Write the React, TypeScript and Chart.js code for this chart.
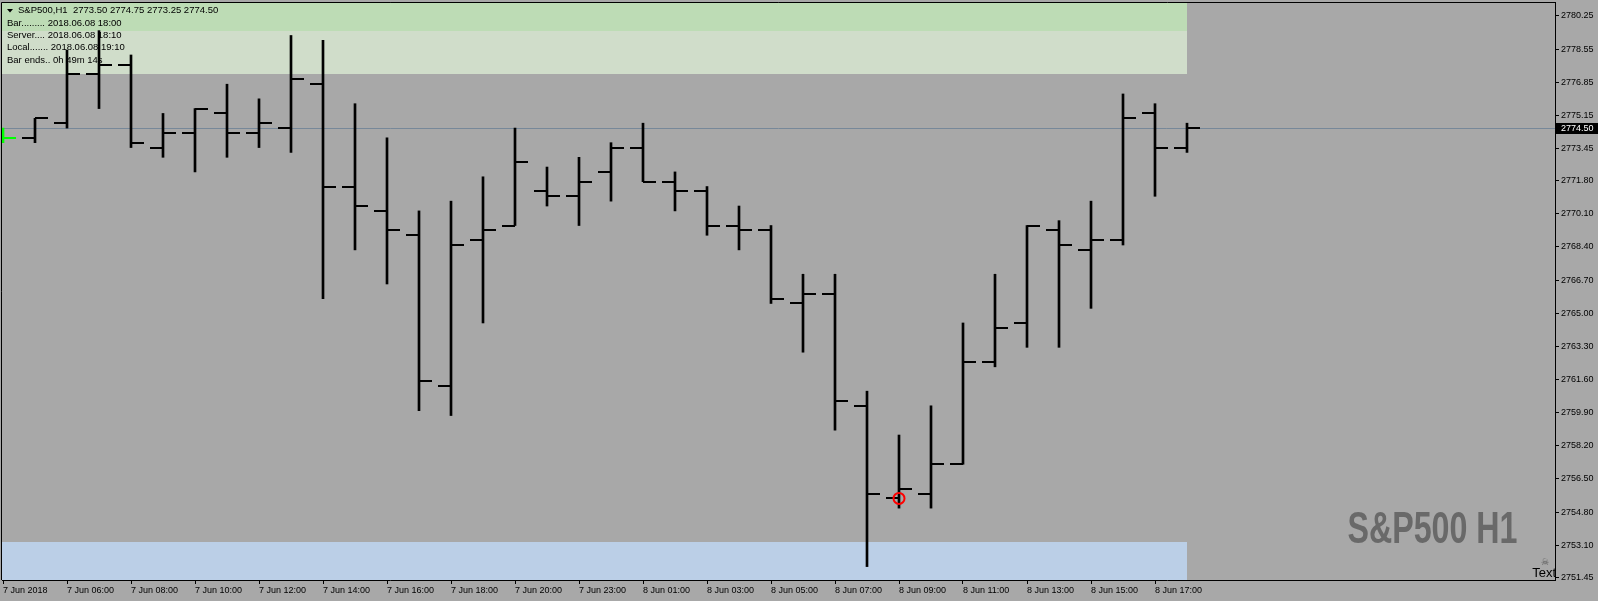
import React, { useEffect, useRef } from "react";
import { Chart, registerables } from "chart.js";

Chart.register(...registerables);

// ---- data (H1 bars, S&P500) ----
const opens = [2774.25, 2774.0, 2774.75, 2777.25, 2777.75, 2773.5, 2774.25, 2775.25, 2774.25, 2774.5, 2776.75, 2771.5, 2770.25, 2769.0, 2761.25, 2768.75, 2769.5, 2771.25, 2771.0, 2772.25, 2773.5, 2771.75, 2771.25, 2769.5, 2769.25, 2765.5, 2766.0, 2760.25, 2755.5, 2755.75, 2757.25, 2762.5, 2764.5, 2769.25, 2768.25, 2768.75, 2775.25, 2773.5];
const highs = [2774.5, 2775.0, 2778.5, 2779.5, 2778.25, 2775.25, 2775.5, 2776.75, 2776.0, 2779.25, 2779.0, 2775.75, 2774.0, 2770.25, 2770.75, 2772.0, 2774.5, 2772.5, 2773.0, 2773.75, 2774.75, 2772.25, 2771.5, 2770.5, 2769.5, 2767.0, 2767.0, 2761.0, 2758.75, 2760.25, 2764.5, 2767.0, 2769.5, 2769.75, 2770.75, 2776.25, 2775.75, 2774.75];
const lows = [2773.75, 2773.75, 2774.5, 2775.5, 2773.5, 2773.0, 2772.25, 2773.0, 2773.5, 2773.25, 2765.75, 2768.25, 2766.5, 2760.0, 2759.75, 2764.5, 2769.5, 2770.5, 2769.5, 2770.75, 2771.75, 2770.25, 2769.0, 2768.25, 2765.5, 2763.0, 2759.0, 2752.0, 2755.0, 2755.0, 2757.25, 2762.25, 2763.25, 2763.25, 2765.25, 2768.5, 2771.0, 2773.25];
const closes = [2774.0, 2775.0, 2777.25, 2777.75, 2773.75, 2774.25, 2775.5, 2774.25, 2774.75, 2777.0, 2771.5, 2770.5, 2769.25, 2761.5, 2768.5, 2769.25, 2772.75, 2771.0, 2771.75, 2773.5, 2771.75, 2771.25, 2769.5, 2769.25, 2765.75, 2766.0, 2760.5, 2755.75, 2756.0, 2757.25, 2762.5, 2764.25, 2769.5, 2768.5, 2768.75, 2775.0, 2773.5, 2774.5];
const barSlots = opens.map((_, i) => i - 1);

const axisLabels = ["7 Jun 2018", "7 Jun 06:00", "7 Jun 08:00", "7 Jun 10:00", "7 Jun 12:00", "7 Jun 14:00", "7 Jun 16:00", "7 Jun 18:00", "7 Jun 20:00", "7 Jun 23:00", "8 Jun 01:00", "8 Jun 03:00", "8 Jun 05:00", "8 Jun 07:00", "8 Jun 09:00", "8 Jun 11:00", "8 Jun 13:00", "8 Jun 15:00", "8 Jun 17:00"];
const axisLabelSlots = [-1, 1, 3, 5, 7, 9, 11, 13, 15, 17, 19, 21, 23, 25, 27, 29, 31, 33, 35];

const priceTicks = [2780.25, 2778.55, 2776.85, 2775.15, 2773.45, 2771.8, 2770.1, 2768.4, 2766.7, 2765.0, 2763.3, 2761.6, 2759.9, 2758.2, 2756.5, 2754.8, 2753.1, 2751.45];
const currentPrice = 2774.5;

const upperZoneOuter = [2779.5, 2790];
const upperZoneInner = [2777.25, 2779.5];
const lowerZone = [2740, 2753.25];

const markerSlot = [27];
const markerPrice = [2755.5];

const headerText = "S&P500,H1  2773.50 2774.75 2773.25 2774.50";
const infoLines = ["Bar......... 2018.06.08 18:00", "Server.... 2018.06.08 18:10", "Local....... 2018.06.08 19:10", "Bar ends.. 0h 49m 14s"];
const watermark = "S&P500 H1";
const cornerLabel = "Text";

// ---- style ----
const W = 1598;
const H = 601;
const BG = "#A8A8A8";
const FONT = "'Liberation Sans', Arial, sans-serif";
const TICK = 13;
const X_MIN = -1.03125;
const X_MAX = 47.5;
const Y_MAX = 2780.917;
const Y_MIN = 2751.312;

function tickImage(color: string, left: boolean) {
  const c = document.createElement("canvas");
  c.width = TICK * 2;
  c.height = 2;
  const g = c.getContext("2d")!;
  g.fillStyle = color;
  g.fillRect(left ? 0 : TICK, 0, TICK, 2);
  return c;
}

function zeroPadding(s: any) {
  s.paddingLeft = 0;
  s.paddingRight = 0;
  s.paddingTop = 0;
  s.paddingBottom = 0;
}

export default function App() {
  const ref = useRef<HTMLCanvasElement>(null);

  useEffect(() => {
    document.body.style.margin = "0";
    document.body.style.background = BG;
    const canvas = ref.current!;
    const colorOf = (i: number) => (i === 0 ? "#00FF00" : "#000000");
    const openImgs = opens.map((_, i) => tickImage(colorOf(i), true));
    const closeImgs = closes.map((_, i) => tickImage(colorOf(i), false));

    const decor = {
      id: "decor",
      beforeDraw(chart: any) {
        const { ctx, width, height } = chart;
        ctx.save();
        ctx.fillStyle = BG;
        ctx.fillRect(0, 0, width, height);
        ctx.restore();
      },
      beforeDatasetsDraw(chart: any) {
        const { ctx, chartArea: a, scales } = chart;
        const xs = scales.x;
        const ys = scales.y;
        const xEnd = xs.getPixelForValue(barSlots[barSlots.length - 1]);
        ctx.save();
        ctx.beginPath();
        ctx.rect(a.left, a.top, a.right - a.left, a.bottom - a.top);
        ctx.clip();
        const zones: [number[], string][] = [
          [upperZoneOuter, "#BDDCB5"],
          [upperZoneInner, "#D0DDCA"],
          [lowerZone, "#BBCFE7"],
        ];
        for (const [z, col] of zones) {
          const y1 = Math.round(ys.getPixelForValue(z[1]));
          const y2 = Math.round(ys.getPixelForValue(z[0]));
          ctx.fillStyle = col;
          ctx.fillRect(a.left, y1, Math.round(xEnd) - a.left, y2 - y1);
        }
        const py = Math.round(ys.getPixelForValue(currentPrice)) + 0.5;
        ctx.strokeStyle = "#778899";
        ctx.lineWidth = 1;
        ctx.beginPath();
        ctx.moveTo(a.left, py);
        ctx.lineTo(a.right, py);
        ctx.stroke();

        // info block
        ctx.fillStyle = "#000";
        ctx.beginPath();
        ctx.moveTo(7, 9);
        ctx.lineTo(13, 9);
        ctx.lineTo(10, 12.5);
        ctx.closePath();
        ctx.fill();
        ctx.font = `9.5px ${FONT}`;
        ctx.textBaseline = "middle";
        ctx.textAlign = "left";
        ctx.fillText(headerText, 18, 10.7);
        const lineYs = [23.3, 35.6, 47.8, 60];
        infoLines.forEach((t, i) => ctx.fillText(t, 7, lineYs[i]));

        // watermark
        ctx.font = `bold 45px ${FONT}`;
        ctx.textBaseline = "alphabetic";
        const mw = ctx.measureText(watermark).width;
        ctx.save();
        ctx.translate(1347.5, 542.7);
        ctx.scale(170 / mw, 1);
        ctx.fillStyle = "#696969";
        ctx.fillText(watermark, 0, 0);
        ctx.restore();

        // corner label
        ctx.fillStyle = "#555";
        ctx.font = `9px ${FONT}`;
        ctx.textAlign = "center";
        ctx.textBaseline = "middle";
        ctx.fillText("\u2620", 1545, 563);
        ctx.fillStyle = "#000";
        ctx.font = `13px ${FONT}`;
        ctx.textAlign = "right";
        ctx.textBaseline = "alphabetic";
        ctx.fillText(cornerLabel, 1556, 576.7);
        ctx.restore();
      },
      afterDraw(chart: any) {
        const { ctx, chartArea: a, scales } = chart;
        ctx.save();
        ctx.strokeStyle = "#000";
        ctx.lineWidth = 1;
        ctx.beginPath();
        ctx.moveTo(a.left - 0.5, a.bottom);
        ctx.lineTo(a.left - 0.5, a.top - 0.5);
        ctx.lineTo(a.right + 1, a.top - 0.5);
        ctx.stroke();
        const py = Math.round(scales.y.getPixelForValue(currentPrice));
        ctx.fillStyle = "#000";
        ctx.fillRect(a.right + 1, py - 5, W - a.right - 1, 11);
        ctx.fillStyle = "#fff";
        ctx.font = `9px ${FONT}`;
        ctx.textBaseline = "middle";
        ctx.textAlign = "left";
        ctx.fillText(currentPrice.toFixed(2), a.right + 6, py + 0.5);
        ctx.restore();
      },
    };

    const chart = new Chart(canvas, {
      type: "bar",
      data: {
        datasets: [
          {
            type: "scatter",
            order: 0,
            data: markerSlot.map((s, i) => ({ x: s, y: markerPrice[i] })),
            pointStyle: "circle",
            pointRadius: 5.5,
            pointBorderWidth: 2,
            pointBorderColor: "#FF0000",
            pointBackgroundColor: "rgba(0,0,0,0)",
          } as any,
          {
            type: "scatter",
            order: 1,
            data: barSlots.map((s, i) => ({ x: s, y: opens[i] })),
            pointStyle: openImgs,
            pointRadius: 2,
          } as any,
          {
            type: "scatter",
            order: 1,
            data: barSlots.map((s, i) => ({ x: s, y: closes[i] })),
            pointStyle: closeImgs,
            pointRadius: 2,
          } as any,
          {
            type: "bar",
            order: 2,
            data: barSlots.map((s, i) => ({ x: s, y: [lows[i], highs[i]] })),
            backgroundColor: barSlots.map((_, i) => colorOf(i)),
            borderWidth: 0,
            barThickness: 2,
          } as any,
        ],
      },
      options: {
        responsive: false,
        animation: false,
        devicePixelRatio: 1,
        events: [],
        layout: { autoPadding: false, padding: { left: 2, top: 3, right: 0, bottom: 0 } },
        plugins: { legend: { display: false }, tooltip: { enabled: false } },
        scales: {
          x: {
            type: "linear",
            min: X_MIN,
            max: X_MAX,
            offset: false,
            afterBuildTicks: (s: any) => {
              s.ticks = axisLabelSlots.map((v) => ({ value: v }));
            },
            afterFit: (s: any) => {
              s.height = 21;
              zeroPadding(s);
            },
            ticks: {
              callback: (_v: any, i: number) => axisLabels[i] ?? "",
              align: "start",
              maxRotation: 0,
              minRotation: 0,
              autoSkip: false,
              padding: 1,
              color: "#000",
              font: { family: FONT, size: 9 },
            },
            grid: { display: true, drawOnChartArea: false, drawTicks: true, tickLength: 4, color: "#000", offset: false },
            border: { display: true, color: "#000", width: 1 },
          },
          y: {
            type: "linear",
            position: "right",
            min: Y_MIN,
            max: Y_MAX,
            afterBuildTicks: (s: any) => {
              s.ticks = priceTicks.map((v) => ({ value: v }));
            },
            afterFit: (s: any) => {
              s.width = W - 1555;
              zeroPadding(s);
            },
            ticks: {
              callback: (v: any) => Number(v).toFixed(2),
              autoSkip: false,
              padding: 2,
              color: "#000",
              font: { family: FONT, size: 9 },
            },
            grid: { display: true, drawOnChartArea: false, drawTicks: true, tickLength: 4, color: "#000" },
            border: { display: true, color: "#000", width: 1 },
          },
        },
      } as any,
      plugins: [decor],
    });
    return () => chart.destroy();
  }, []);

  return <canvas ref={ref} width={W} height={H} style={{ display: "block", width: W, height: H }} />;
}
